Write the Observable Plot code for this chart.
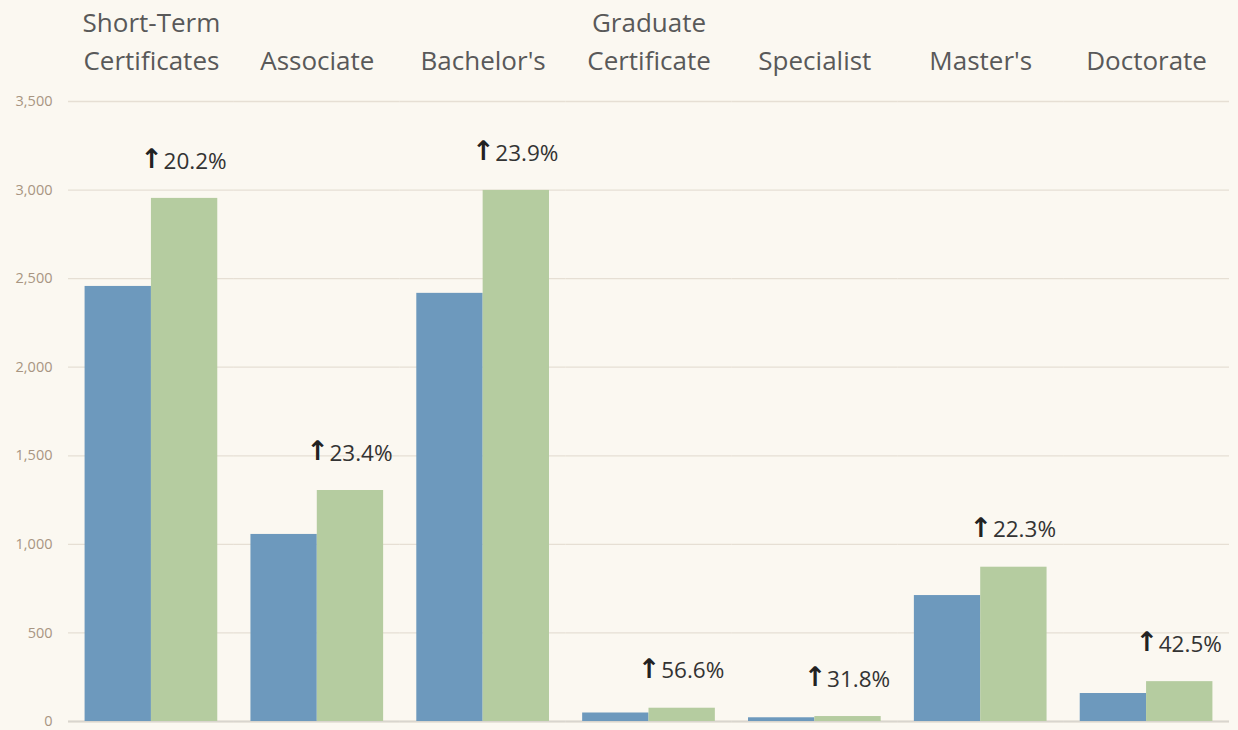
<!DOCTYPE html>
<html>
<head>
<meta charset="utf-8">
<script src="https://cdn.jsdelivr.net/npm/d3@7"></script>
<script src="https://cdn.jsdelivr.net/npm/@observablehq/plot@0.6"></script>
<style>
  html, body { margin: 0; padding: 0; background: #fbf8f1; }
</style>
</head>
<body>
<div id="chart"></div>
<script>
const categories = ["Short-Term Certificates", "Associate", "Bachelor's", "Graduate Certificate", "Specialist", "Master's", "Doctorate"];
const tickLabels = ["Short-Term\nCertificates", "Associate", "Bachelor's", "Graduate\nCertificate", "Specialist", "Master's", "Doctorate"];
const series = ["Earlier", "Later"];
const earlierValues = [2456, 1056, 2417, 48, 21, 711, 158];
const laterValues = [2953, 1304, 2998, 75, 28, 871, 225];
const growthLabels = ["20.2%", "23.4%", "23.9%", "56.6%", "31.8%", "22.3%", "42.5%"];
const yTicks = [0, 500, 1000, 1500, 2000, 2500, 3000, 3500];

const rows = [];
categories.forEach((c, i) => {
  rows.push({cat: c, series: series[0], value: earlierValues[i]});
  rows.push({cat: c, series: series[1], value: laterValues[i]});
});
const labelRows = categories.map((c, i) => ({cat: c, series: series[1], value: laterValues[i], pct: growthLabels[i]}));
const fmtCat = d => tickLabels[categories.indexOf(d)];

const chart = Plot.plot({
  width: 1238,
  height: 730,
  marginTop: 101,
  marginBottom: 9,
  marginLeft: 68,
  marginRight: 9,
  style: {background: "#fbf8f1", fontFamily: "'Open Sans', sans-serif"},
  fx: {domain: categories, paddingInner: 0, paddingOuter: 0, round: false, label: null},
  x: {type: "band", domain: series, paddingInner: 0, paddingOuter: 0.25, round: false, axis: null},
  y: {domain: [0, 3500], label: null},
  color: {domain: series, range: ["#6d99bd", "#b5cca0"]},
  marks: [
    Plot.gridY({ticks: yTicks, stroke: "#e6dfd4", strokeOpacity: 1, strokeWidth: 1.3}),
    Plot.ruleY([0], {stroke: "#d9d5ce", strokeWidth: 2}),
    Plot.barY(rows, {fx: "cat", x: "series", y: "value", fill: "series"}),
    Plot.text(labelRows, {fx: "cat", x: "series", y: "value", text: d => "↑", dy: -39, dx: -33, fontSize: 27, fontWeight: "bold", fontFamily: "'DejaVu Sans', sans-serif", fill: "#222"}),
    Plot.text(labelRows, {fx: "cat", x: "series", y: "value", text: "pct", dy: -37, dx: -21, textAnchor: "start", fontSize: 22.5, fill: "#333"}),
    Plot.axisY({ticks: yTicks, tickSize: 0, tickPadding: 16, tickFormat: d3.format(","), fontSize: 14.5, fill: "#a89582", label: null}),
    Plot.axisFx({anchor: "top", tickSize: 0, tickPadding: 32, fontSize: 26, fill: "#595959", lineHeight: 1.45, tickFormat: fmtCat, label: null})
  ]
});
document.getElementById("chart").appendChild(chart);
</script>
</body>
</html>
